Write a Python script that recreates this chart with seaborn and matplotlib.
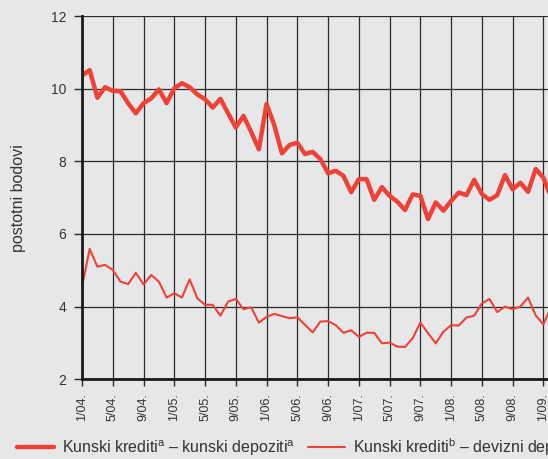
import matplotlib
matplotlib.use("Agg")
import matplotlib.pyplot as plt
import numpy as np
import pandas as pd
import seaborn as sns

# monthly spreads, percentage points, from 1/04 onwards
kn_kn = [10.36, 10.51, 9.75, 10.04, 9.94, 9.93, 9.60, 9.32, 9.60, 9.73,
         9.98, 9.60, 10.01, 10.15, 10.04, 9.84, 9.71, 9.48, 9.72, 9.32,
         8.93, 9.25, 8.81, 8.33, 9.58, 9.00, 8.22, 8.45, 8.51, 8.20,
         8.26, 8.06, 7.67, 7.74, 7.60, 7.15, 7.51, 7.51, 6.94, 7.29,
         7.05, 6.89, 6.66, 7.09, 7.05, 6.41, 6.87, 6.64, 6.91, 7.14,
         7.07, 7.49, 7.10, 6.94, 7.07, 7.62, 7.23, 7.41, 7.16, 7.79,
         7.55, 7.00]
kn_dev = [4.55, 5.59, 5.10, 5.15, 5.01, 4.69, 4.62, 4.93, 4.61, 4.87,
          4.69, 4.25, 4.37, 4.25, 4.75, 4.23, 4.05, 4.05, 3.75, 4.14,
          4.21, 3.93, 3.98, 3.56, 3.72, 3.80, 3.74, 3.68, 3.71, 3.50,
          3.29, 3.59, 3.60, 3.49, 3.28, 3.35, 3.17, 3.28, 3.28, 2.99,
          3.01, 2.90, 2.89, 3.13, 3.56, 3.27, 2.99, 3.31, 3.49, 3.48,
          3.70, 3.75, 4.09, 4.21, 3.85, 4.00, 3.93, 4.00, 4.25, 3.76,
          3.51, 4.00]
tick_labels = ["1/04.", "5/04.", "9/04.", "1/05.", "5/05.", "9/05.",
               "1/06.", "5/06.", "9/06.", "1/07.", "5/07.", "9/07.",
               "1/08.", "5/08.", "9/08.", "1/09.", "5/09."]
label_a = "Kunski krediti$^{\\rm a}$ – kunski depoziti$^{\\rm a}$"
label_b = "Kunski krediti$^{\\rm b}$ – devizni depoziti$^{\\rm b}$"

bg = "#e6e7e8"
red = "#ef4136"
grid = "#2a2a2a"
txt = "#333333"

sns.set_theme(style="white")
plt.rcParams["font.family"] = ["Liberation Sans", "DejaVu Sans"]
plt.rcParams["mathtext.fontset"] = "custom"
plt.rcParams["mathtext.rm"] = "Liberation Sans"

df = pd.DataFrame({"m": np.arange(len(kn_kn)), "a": kn_kn, "b": kn_dev})

fig = plt.figure(figsize=(5.48, 4.59), dpi=100, facecolor=bg)
# axes run past the right border, the source picture is cut off there
ax_w = 64 * 7.69
ax = fig.add_axes([82 / 548, 79.7 / 459, ax_w / 548, 363.3 / 459])
ax.set_facecolor(bg)

sns.lineplot(data=df, x="m", y="a", ax=ax, color=red, linewidth=3.2, label=label_a)
sns.lineplot(data=df, x="m", y="b", ax=ax, color=red, linewidth=1.5, label=label_b)

ax.set_xlim(0, 64)
ax.set_ylim(2, 12)
ax.set_yticks([2, 4, 6, 8, 10, 12])
ax.set_xticks(np.arange(0, 4 * len(tick_labels), 4))
ax.set_xticklabels(tick_labels, rotation=90, va="top", ha="center")
ax.tick_params(axis="x", length=5, width=1, color=grid, pad=5,
               labelsize=9, labelcolor=txt, bottom=True)
ax.tick_params(axis="y", length=5.5, width=1, color=grid, pad=6,
               labelsize=10, labelcolor=txt, left=True)
ax.grid(True, color=grid, linewidth=0.9)
ax.set_axisbelow(True)

for side in ["top", "right"]:
    ax.spines[side].set_visible(False)
for side in ["left", "bottom"]:
    ax.spines[side].set_color("#1a1a1a")
    ax.spines[side].set_linewidth(2)

ax.set_xlabel("")
ax.set_ylabel("postotni bodovi", fontsize=11.5, color=txt)
ax.yaxis.set_label_coords((26 - 82) / ax_w, 0.5)

handles, labels = ax.get_legend_handles_labels()
ax.get_legend().remove()
fig.legend(handles, labels, ncol=2, loc="center left",
           bbox_to_anchor=(17.3 / 548, 12 / 459), frameon=False, fontsize=11.5,
           handlelength=2.3, handletextpad=0.48, columnspacing=0.85,
           labelcolor=txt, borderaxespad=0, borderpad=0)

fig.savefig("out.png", dpi=100, facecolor=bg)
